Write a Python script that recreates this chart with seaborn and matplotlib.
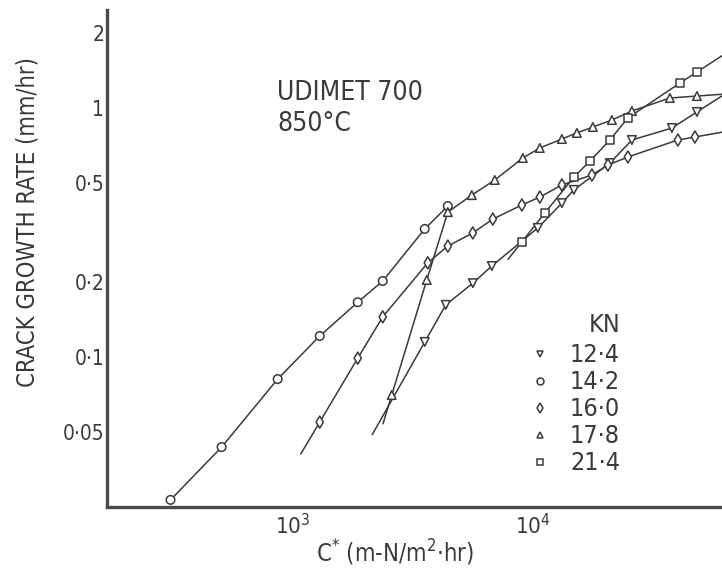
import matplotlib
matplotlib.use("Agg")
import matplotlib.pyplot as plt
from matplotlib.lines import Line2D
from matplotlib.ticker import NullLocator
import seaborn as sns
import pandas as pd
import numpy as np

sns.set_style("white")
plt.rcParams['font.family'] = ['DejaVu Sans']
plt.rcParams['font.stretch'] = 'condensed'

ink = '#3a3a3a'

# load levels (KN) and their readings: C* (m-N/m2.hr) vs crack growth rate (mm/hr)
load_kn = ["12·4", "14·2", "16·0", "17·8", "21·4"]

c_124 = [3548, 4340, 5623, 6748, 10490, 13210, 14820, 20930, 25850, 37930, 48220]
rate_124 = [0.115, 0.162, 0.198, 0.232, 0.330, 0.415, 0.469, 0.601, 0.744, 0.831, 0.964]

c_142 = [310, 506, 866, 1296, 1866, 2371, 3548, 4426]
rate_142 = [0.0267, 0.0435, 0.0816, 0.1215, 0.166, 0.202, 0.327, 0.404]

c_160 = [1296, 1866, 2371, 3652, 4426, 5623, 6813, 9000, 10690, 13210, 17620,
         20540, 24880, 40180, 47320]
rate_160 = [0.0548, 0.099, 0.145, 0.239, 0.279, 0.315, 0.358, 0.408, 0.439, 0.491,
            0.538, 0.590, 0.636, 0.744, 0.765]

c_178 = [2585, 3617, 4426, 5568, 6942, 9085, 10690, 13210, 15250, 17780, 21340,
         25850, 37210, 48220]
rate_178 = [0.0704, 0.204, 0.382, 0.447, 0.514, 0.630, 0.691, 0.751, 0.794, 0.839,
            0.895, 0.973, 1.097, 1.117]

c_214 = [9000, 11220, 14820, 17280, 20930, 24880, 40970, 48220]
rate_214 = [0.290, 0.379, 0.528, 0.612, 0.744, 0.912, 1.260, 1.395]

series = {
    "12·4": (c_124, rate_124),
    "14·2": (c_142, rate_142),
    "16·0": (c_160, rate_160),
    "17·8": (c_178, rate_178),
    "21·4": (c_214, rate_214),
}
markers = {"12·4": "v", "14·2": "o", "16·0": "d", "17·8": "^", "21·4": "s"}
# how far the hand drawn curves run past the first / last point (in segments)
tails = {"12·4": (2.5, 3), "14·2": (0, 0), "16·0": (0.5, 3), "17·8": (0.25, 3), "21·4": (0.6, 3)}

rows = []
for kn, (cs, rs) in series.items():
    for c, r in zip(cs, rs):
        rows.append({"C": c, "rate": r, "KN": kn})
df = pd.DataFrame(rows)


def extend(xs, ys, back, fwd):
    lx, ly = np.log10(xs), np.log10(ys)
    x0 = lx[0] - back * (lx[1] - lx[0])
    y0 = ly[0] - back * (ly[1] - ly[0])
    x1 = lx[-1] + fwd * (lx[-1] - lx[-2])
    y1 = ly[-1] + fwd * (ly[-1] - ly[-2])
    return 10 ** np.r_[x0, lx, x1], 10 ** np.r_[y0, ly, y1]


fig = plt.figure(figsize=(7.22, 5.77), dpi=100)
ax = fig.add_axes([107 / 722, 70 / 577, 615 / 722, 497 / 577])
ax.set_xscale('log')
ax.set_yscale('log')

for kn, (cs, rs) in series.items():
    xe, ye = extend(cs, rs, *tails[kn])
    sns.lineplot(x=xe, y=ye, ax=ax, color=ink, linewidth=1.1,
                 estimator=None, sort=False)

sns.scatterplot(data=df, x="C", y="rate", style="KN", markers=markers,
                s=38, facecolor='white', edgecolor=ink, linewidth=1.1,
                ax=ax, legend=False, zorder=3)

ax.set_xlim(168.6, 61330)
ax.set_ylim(0.025, 2.475)

ax.set_yticks([0.05, 0.1, 0.2, 0.5, 1, 2])
ax.set_yticklabels(["0·05", "0·1", "0·2", "0·5", "1", "2"])
ax.yaxis.set_minor_locator(NullLocator())
ax.set_xticks([1e3, 1e4])
ax.set_xticklabels([r"$10^3$", r"$10^4$"])
ax.set_xticks([500, 5000, 50000], minor=True)

ax.tick_params(axis='y', which='major', direction='in', length=7, width=1.4,
               color=ink, labelsize=15, labelcolor=ink, pad=2)
ax.tick_params(axis='x', which='major', direction='in', length=13, width=1.4,
               color=ink, labelsize=16, labelcolor=ink, pad=4)
ax.tick_params(axis='x', which='minor', direction='in', length=6, width=1.4,
               color=ink)
ax.yaxis.get_major_ticks()[4].tick1line.set_markersize(13)

for side in ['top', 'right']:
    ax.spines[side].set_visible(False)
for side in ['left', 'bottom']:
    ax.spines[side].set_linewidth(2.4)
    ax.spines[side].set_color('#4a4a4a')

ax.set_xlabel("")
ax.set_ylabel("")
fig.text(395 / 722, 1 - 553 / 577, r"C$^{*}$ (m-N/m$^{2}$·hr)", ha='center',
         va='center', fontsize=17, color=ink)
fig.text(28 / 722, 1 - 222 / 577, "CRACK GROWTH RATE (mm/hr)", rotation=90,
         ha='center', va='center', fontsize=17, color=ink)

fig.text(277 / 722, 1 - 93 / 577, "UDIMET 700", ha='left', va='center',
         fontsize=19, color=ink)
fig.text(277 / 722, 1 - 124 / 577, "850°C", ha='left', va='center',
         fontsize=19, color=ink)

handles = [Line2D([], [], linestyle='none', marker=markers[k], markersize=5,
                  markerfacecolor='white', markeredgecolor=ink,
                  markeredgewidth=1.1) for k in load_kn]
leg = ax.legend(handles, load_kn, title="KN", loc='upper left',
                bbox_to_anchor=((515 - 107) / 615, 1 - (300 - 10) / 497), frameon=False,
                fontsize=18, title_fontsize=18, handlelength=1.0,
                handletextpad=0.7, labelspacing=0.12, borderpad=0)
for t in leg.get_texts():
    t.set_color(ink)
leg.get_title().set_color(ink)
leg._legend_box.sep = 5
leg._legend_box.align = "right"

fig.savefig("out.png", dpi=100, facecolor='white')
